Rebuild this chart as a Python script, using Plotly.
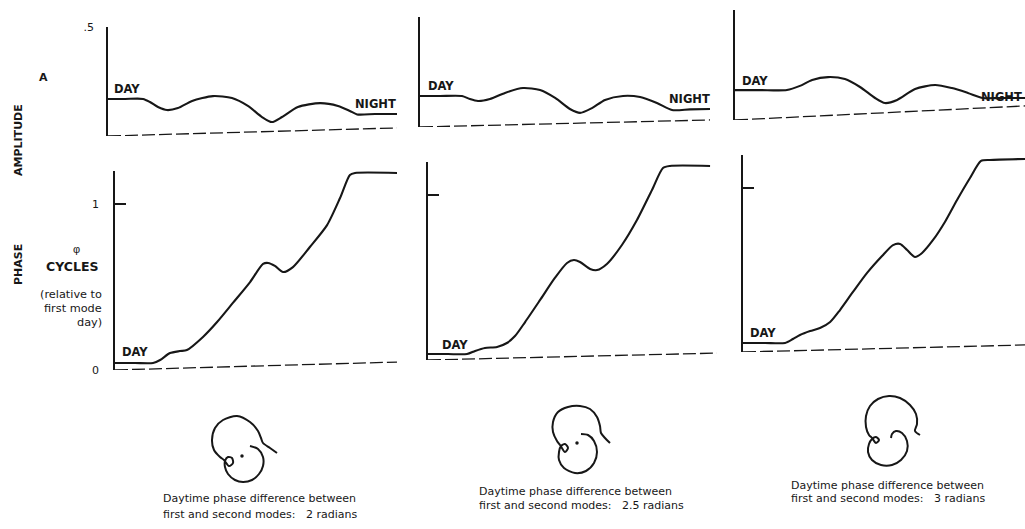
import plotly.graph_objects as go

# ---------------- data ----------------
# Time axis is in arbitrary units 0..10 (day -> night)
t_amp_1 = [0, 0.59, 1.21, 1.45, 1.73, 2.04, 2.42, 2.91, 3.63, 4.29, 4.84, 5.33, 5.67, 6.02, 6.57, 7.34, 7.96, 8.37, 8.62, 9.24, 10]
amp_1 = [0.170, 0.170, 0.170, 0.156, 0.133, 0.119, 0.128, 0.161, 0.183, 0.174, 0.138, 0.087, 0.064, 0.087, 0.133, 0.151, 0.138, 0.115, 0.099, 0.101, 0.101]

t_amp_2 = [0, 0.69, 1.45, 1.72, 2.0, 2.41, 2.93, 3.55, 4.14, 4.66, 5.17, 5.52, 5.93, 6.38, 7.0, 7.59, 8.17, 8.69, 9.31, 10]
amp_2 = [0.141, 0.141, 0.141, 0.127, 0.118, 0.127, 0.155, 0.177, 0.168, 0.132, 0.082, 0.064, 0.086, 0.123, 0.141, 0.136, 0.109, 0.077, 0.080, 0.082]

t_amp_3 = [0, 0.86, 1.79, 2.24, 2.66, 3.21, 3.79, 4.31, 4.83, 5.17, 5.59, 6.21, 6.90, 7.48, 8.03, 8.55, 9.14, 10]
amp_3 = [0.136, 0.136, 0.136, 0.155, 0.182, 0.195, 0.186, 0.150, 0.100, 0.077, 0.091, 0.141, 0.159, 0.145, 0.123, 0.100, 0.100, 0.100]

t_phase_1 = [0, 0.71, 1.35, 1.60, 1.95, 2.30, 2.55, 3.12, 3.62, 4.18, 4.79, 5.25, 5.43, 5.67, 5.96, 6.31, 6.91, 7.52, 7.98, 8.33, 8.51, 10]
phase_1 = [0.042, 0.042, 0.042, 0.060, 0.102, 0.114, 0.120, 0.199, 0.289, 0.404, 0.530, 0.639, 0.645, 0.627, 0.590, 0.620, 0.741, 0.873, 1.036, 1.175, 1.187, 1.187]

t_phase_2 = [0, 0.69, 1.35, 1.63, 1.97, 2.39, 2.73, 3.01, 3.36, 3.88, 4.39, 4.81, 5.05, 5.26, 5.61, 5.85, 6.19, 6.71, 7.23, 7.75, 8.13, 8.37, 9.76]
phase_2 = [0.036, 0.036, 0.036, 0.055, 0.073, 0.079, 0.103, 0.145, 0.230, 0.364, 0.497, 0.588, 0.606, 0.594, 0.552, 0.545, 0.582, 0.697, 0.848, 1.030, 1.164, 1.176, 1.176]

t_phase_3 = [0, 0.78, 1.49, 1.77, 2.02, 2.38, 2.73, 3.09, 3.44, 3.90, 4.40, 4.93, 5.32, 5.57, 5.82, 6.10, 6.35, 6.74, 7.16, 7.59, 8.05, 8.44, 8.76, 10]
phase_3 = [0.055, 0.055, 0.055, 0.079, 0.104, 0.128, 0.146, 0.183, 0.256, 0.366, 0.482, 0.585, 0.652, 0.659, 0.622, 0.579, 0.604, 0.683, 0.793, 0.927, 1.061, 1.165, 1.171, 1.177]

# dashed zero lines (slightly tilted in the drawing): value at start / end
base_time = [0, 10]
amp_base_1 = [0, 0.037]
amp_base_2 = [0, 0.032]
amp_base_3 = [0, 0.064]
phase_base_1 = [0, 0.048]
phase_base_2 = [0, 0.042]
phase_base_3 = [0, 0.043]

# hodographs (real / imaginary parts)
hodo_re_1 = [0.35, 0.28, 0.21, 0.19, 0.16, 0.08, -0.05, -0.19, -0.27, -0.30, -0.28, -0.22, -0.18, -0.13, -0.09, -0.10, -0.14, -0.17, -0.17, -0.14, -0.07, 0.01, 0.10, 0.17, 0.21, 0.21, 0.16, 0.08]
hodo_im_1 = [0.03, 0.08, 0.13, 0.18, 0.25, 0.34, 0.40, 0.36, 0.28, 0.16, 0.06, -0.01, -0.04, -0.10, -0.07, -0.02, -0.01, -0.05, -0.11, -0.18, -0.24, -0.26, -0.24, -0.18, -0.10, -0.01, 0.07, 0.10]
hodo_re_2 = [0.33, 0.28, 0.24, 0.23, 0.20, 0.13, 0.03, -0.09, -0.19, -0.24, -0.24, -0.20, -0.17, -0.12, -0.09, -0.12, -0.16, -0.18, -0.18, -0.13, -0.02, 0.09, 0.17, 0.20, 0.17, 0.11, 0.04]
hodo_im_2 = [0.00, 0.05, 0.10, 0.17, 0.26, 0.34, 0.37, 0.36, 0.31, 0.21, 0.11, 0.02, -0.02, -0.09, -0.05, -0.01, -0.03, -0.09, -0.17, -0.25, -0.30, -0.28, -0.20, -0.09, 0.02, 0.08, 0.09]
hodo_re_3 = [0.33, 0.28, 0.30, 0.29, 0.23, 0.13, 0.02, -0.09, -0.17, -0.21, -0.21, -0.18, -0.15, -0.11, -0.08, -0.11, -0.15, -0.18, -0.19, -0.15, -0.06, 0.05, 0.14, 0.20, 0.20, 0.15, 0.09, 0.05, 0.04]
hodo_im_3 = [0.13, 0.17, 0.24, 0.34, 0.43, 0.50, 0.52, 0.49, 0.42, 0.32, 0.21, 0.13, 0.10, 0.05, 0.08, 0.11, 0.09, 0.04, -0.04, -0.12, -0.17, -0.17, -0.12, -0.03, 0.07, 0.15, 0.17, 0.14, 0.10]

captions_1 = ["Daytime phase difference between", "first and second modes:\u00a0\u00a0 2 radians"]
captions_2 = ["Daytime phase difference between", "first and second modes:\u00a0\u00a0 2.5 radians"]
captions_3 = ["Daytime phase difference between", "first and second modes:\u00a0\u00a0 3 radians"]

# ---------------- layout helpers ----------------
W, H = 1025, 529
INK = "#171717"
FONT = "DejaVu Sans"


def fx(x):
    return x / W


def fy(y):
    return 1 - y / H


def ax_name(kind, i):
    return kind + "axis" + ("" if i == 1 else str(i))


def ref(kind, i):
    return kind + ("" if i == 1 else str(i))


fig = go.Figure()
layout = dict(template="none", width=W, height=H, autosize=False,
              margin=dict(l=0, r=0, t=0, b=0, pad=0, autoexpand=False),
              paper_bgcolor="white", plot_bgcolor="rgba(0,0,0,0)", showlegend=False,
              font=dict(family=FONT, color=INK))
annotations = []

# panel geometry in pixels: x0, x1, y_bottom, y_top, yrange
panels = [
    dict(t=t_amp_1, v=amp_1, base=amp_base_1, x0=108, x1=397, yb=136, yt=27, yr=[0, 0.5],
         tv=[0.5], tt=[".5"], labels=True, standoff=10),
    dict(t=t_amp_2, v=amp_2, base=amp_base_2, x0=420, x1=710, yb=127, yt=17, yr=[0, 0.5],
         tv=[0.5], tt=[""], labels=False, standoff=10),
    dict(t=t_amp_3, v=amp_3, base=amp_base_3, x0=735, x1=1025, yb=120, yt=10, yr=[0, 0.5],
         tv=[0.5], tt=[""], labels=False, standoff=10),
    dict(t=t_phase_1, v=phase_1, base=phase_base_1, x0=115, x1=397, yb=370, yt=170.8, yr=[0, 1.2],
         tv=[0, 1], tt=["0", "1"], labels=True, standoff=12),
    dict(t=t_phase_2, v=phase_2, base=phase_base_2, x0=428, x1=717, yb=360, yt=162, yr=[0, 1.2],
         tv=[1], tt=[""], labels=False, standoff=10),
    dict(t=t_phase_3, v=phase_3, base=phase_base_3, x0=743, x1=1025, yb=352, yt=155.2, yr=[0, 1.2],
         tv=[1], tt=[""], labels=False, standoff=10),
]

for i, p in enumerate(panels, start=1):
    layout[ax_name("x", i)] = dict(domain=[fx(p["x0"]), fx(p["x1"])], range=[0, 10], visible=False,
                                   anchor=ref("y", i), fixedrange=True, automargin=False)
    layout[ax_name("y", i)] = dict(domain=[fy(p["yb"]), fy(p["yt"])], range=p["yr"], anchor=ref("x", i),
                                   showline=True, linecolor=INK, linewidth=1.6, showgrid=False,
                                   zeroline=False, ticks="inside", ticklen=11, tickwidth=1.5,
                                   tickcolor=INK, tickvals=p["tv"], ticktext=p["tt"],
                                   showticklabels=p["labels"], ticklabelstandoff=p["standoff"],
                                   tickfont=dict(family=FONT, size=11, color=INK), fixedrange=True,
                                   automargin=False)
    # dashed zero line
    fig.add_trace(go.Scatter(x=base_time, y=p["base"], mode="lines", xaxis=ref("x", i), yaxis=ref("y", i),
                             line=dict(color=INK, width=1.3, dash="13px,4px"), hoverinfo="skip",
                             cliponaxis=False))
    # curve
    fig.add_trace(go.Scatter(x=p["t"], y=p["v"], mode="lines", xaxis=ref("x", i), yaxis=ref("y", i),
                             line=dict(color=INK, width=2.1, shape="spline", smoothing=0.7),
                             cliponaxis=False))

# DAY / NIGHT / TIME labels (data coordinates of each panel)
label_font = dict(family=FONT, size=11.5, color=INK)
day_night = [
    (1, 0.66, 0.216, 9.27, 0.147, "center"),
    (2, 0.72, 0.186, 9.28, 0.127, "center"),
    (3, 0.69, 0.177, 9.97, 0.105, "right"),
    (4, 0.71, 0.108, 9.22, 1.253, "center"),
    (5, 0.93, 0.091, 8.93, 1.242, "center"),
    (6, 0.71, 0.116, 9.97, 1.232, "right"),
]
for i, dx, dy, nx, ny, nanchor in day_night:
    annotations.append(dict(x=dx, y=dy, xref=ref("x", i), yref=ref("y", i), text="<b>DAY</b>",
                            showarrow=False, font=label_font))
    annotations.append(dict(x=nx, y=ny, xref=ref("x", i), yref=ref("y", i), text="<b>NIGHT</b>",
                            showarrow=False, font=label_font, xanchor=nanchor))
for i, tx, ty in [(4, 5.14, -0.060), (5, 4.98, -0.067), (6, 5.11, -0.079)]:
    annotations.append(dict(x=tx, y=ty, xref=ref("x", i), yref=ref("y", i), text="<b>TIME</b>",
                            showarrow=False, font=dict(family=FONT, size=11, color=INK)))


# left-side texts (paper coordinates)
def paper_text(x, y, text, size=11, angle=0, xanchor="center", family=FONT):
    annotations.append(dict(x=fx(x), y=fy(y), xref="paper", yref="paper", text=text, showarrow=False,
                            textangle=angle, xanchor=xanchor, yanchor="middle",
                            font=dict(family=family, size=size, color=INK)))


paper_text(43, 78, "<b>A</b>", 11)
paper_text(18, 140, "<b>AMPLITUDE</b>", 11, -90)
paper_text(18, 265, "<b>PHASE</b>", 11, -90)
paper_text(76, 249, "\u03c6", 11, family="Liberation Sans")
paper_text(72, 266, "<b>CYCLES</b>", 12.5)
paper_text(104, 294, "(relative to", 11.3, xanchor="right")
paper_text(104, 308, "first mode", 11.3, xanchor="right")
paper_text(104, 323, "day)", 11.3, xanchor="right")

# hodographs
hodos = [
    (7, hodo_re_1, hodo_im_1, 242, 456, True, captions_1, 161, 498, 514),
    (8, hodo_re_2, hodo_im_2, 577, 443, True, captions_2, 477, 491, 505),
    (9, hodo_re_3, hodo_im_3, 887, 448, False, captions_3, 789, 485, 498),
]
for i, re_, im_, ox, oy, dot, caps, cx, cy1, cy2 in hodos:
    layout[ax_name("x", i)] = dict(domain=[fx(ox - 50), fx(ox + 50)], range=[-0.5, 0.5], visible=False,
                                   anchor=ref("y", i), fixedrange=True, automargin=False)
    layout[ax_name("y", i)] = dict(domain=[fy(oy + 50), fy(oy - 60)], range=[-0.5, 0.6], visible=False,
                                   anchor=ref("x", i), fixedrange=True, automargin=False)
    fig.add_trace(go.Scatter(x=re_, y=im_, mode="lines", xaxis=ref("x", i), yaxis=ref("y", i),
                             line=dict(color=INK, width=2.0, shape="spline", smoothing=0.8),
                             cliponaxis=False))
    if dot:
        fig.add_trace(go.Scatter(x=[0], y=[0], mode="markers", xaxis=ref("x", i), yaxis=ref("y", i),
                                 marker=dict(color=INK, size=3.5)))
    for text, yy in zip(caps, [cy1, cy2]):
        paper_text(cx, yy, text, 11, xanchor="left")

layout["annotations"] = annotations
fig.update_layout(**layout)
fig.write_html("out.html", config={"displayModeBar": False},
               post_script="document.body.style.margin='0';document.body.style.overflow='hidden';")
